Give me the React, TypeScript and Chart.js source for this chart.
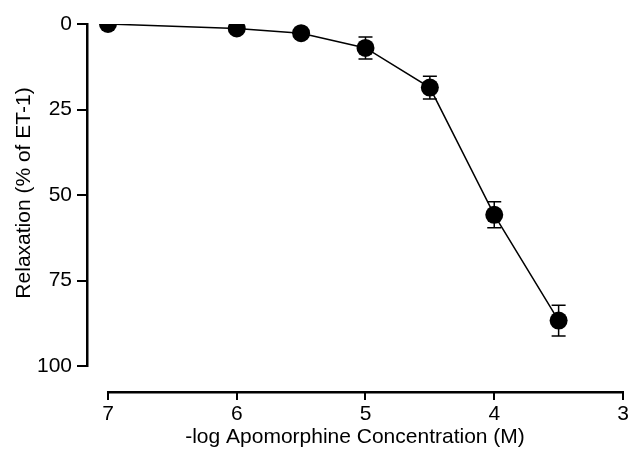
import React, { useEffect, useRef } from "react";
import { Chart, registerables } from "chart.js";

Chart.register(...registerables);

const concentrations = [7, 6, 5.5, 5, 4.5, 4, 3.5];
const relaxation = [0, 1.3, 2.7, 7.0, 18.6, 55.8, 86.7];
const sem = [0, 0, 0, 3.2, 3.3, 3.8, 4.5];
const xTicks = [7, 6, 5, 4, 3];
const yTicks = [0, 25, 50, 75, 100];
const yTitle = "Relaxation (% of ET-1)";
const xTitle = "-log Apomorphine Concentration (M)";

const FONT = "'Liberation Sans', Arial, Helvetica, sans-serif";

const axisLinesPlugin = {
  id: "axisLines",
  afterDraw(chart: any) {
    const { ctx, chartArea, scales } = chart;
    const x = scales.x;
    const y = scales.y;
    const left = Math.round(chartArea.left);
    const y0 = y.getPixelForValue(yTicks[0]);
    const y1 = y.getPixelForValue(yTicks[yTicks.length - 1]);
    ctx.save();
    ctx.fillStyle = "#000";
    ctx.fillRect(left - 1, Math.min(y0, y1) - 1, 2.5, Math.abs(y1 - y0) + 2);
    const x0 = x.getPixelForValue(xTicks[0]);
    const x1 = x.getPixelForValue(xTicks[xTicks.length - 1]);
    ctx.fillRect(Math.min(x0, x1) - 1, Math.round(chartArea.bottom) - 1, Math.abs(x1 - x0) + 2, 2.5);
    const midY = (y0 + y1) / 2;
    ctx.translate(24, midY - 2);
    ctx.rotate(-Math.PI / 2);
    ctx.font = `21px ${FONT}`;
    ctx.textAlign = "center";
    ctx.textBaseline = "middle";
    ctx.fillText(yTitle, 0, 0);
    ctx.restore();
  },
};

const errorBarsPlugin = {
  id: "errorBars",
  beforeDatasetsDraw(chart: any) {
    const { ctx, scales } = chart;
    const x = scales.x;
    const y = scales.y;
    ctx.save();
    ctx.strokeStyle = "#000";
    ctx.lineWidth = 1.5;
    concentrations.forEach((c, i) => {
      const e = sem[i];
      if (!e) return;
      const px = x.getPixelForValue(c);
      const top = y.getPixelForValue(relaxation[i] - e);
      const bot = y.getPixelForValue(relaxation[i] + e);
      ctx.beginPath();
      ctx.moveTo(px, top);
      ctx.lineTo(px, bot);
      ctx.moveTo(px - 7, top);
      ctx.lineTo(px + 7, top);
      ctx.moveTo(px - 7, bot);
      ctx.lineTo(px + 7, bot);
      ctx.stroke();
    });
    ctx.restore();
  },
};

export default function App() {
  const ref = useRef<HTMLCanvasElement | null>(null);

  useEffect(() => {
    if (!ref.current) return;
    const chart = new Chart(ref.current, {
      type: "scatter",
      data: {
        datasets: [
          {
            data: concentrations.map((c, i) => ({ x: c, y: relaxation[i] })),
            showLine: true,
            borderColor: "#000",
            borderWidth: 1.5,
            backgroundColor: "#000",
            pointBackgroundColor: "#000",
            pointBorderColor: "#000",
            pointRadius: 9,
            pointBorderWidth: 0,
            tension: 0,
          },
        ],
      },
      options: {
        animation: false,
        responsive: false,
        events: [],
        layout: { padding: { top: 24, right: 10, left: 8, bottom: 0 } },
        plugins: { legend: { display: false }, tooltip: { enabled: false } },
        scales: {
          x: {
            type: "linear",
            reverse: true,
            min: 3,
            max: 7.163,
            afterBuildTicks: (s: any) => {
              s.ticks = xTicks.map((v) => ({ value: v }));
            },
            afterFit: (s: any) => {
              s.height = 60;
            },
            border: { display: false },
            grid: {
              drawOnChartArea: false,
              drawTicks: true,
              tickLength: 8,
              color: "#000",
              lineWidth: 2,
            },
            ticks: {
              color: "#000",
              font: { family: FONT, size: 21 },
              padding: 2,
              maxRotation: 0,
              callback: (v: any) => String(v),
            },
            title: {
              display: true,
              text: xTitle,
              color: "#000",
              font: { family: FONT, size: 21 },
              padding: { top: 0, bottom: 2 },
            },
          },
          y: {
            type: "linear",
            reverse: true,
            min: 0,
            max: 107.6,
            afterBuildTicks: (s: any) => {
              s.ticks = yTicks.map((v) => ({ value: v }));
            },
            afterFit: (s: any) => {
              s.width = 79;
            },
            border: { display: false },
            grid: {
              drawOnChartArea: false,
              drawTicks: true,
              tickLength: 10,
              color: "#000",
              lineWidth: 2,
            },
            ticks: {
              color: "#000",
              font: { family: FONT, size: 21 },
              padding: 5,
              callback: (v: any) => String(v),
            },
            title: { display: false },
          },
        },
      },
      plugins: [axisLinesPlugin, errorBarsPlugin],
    });
    return () => chart.destroy();
  }, []);

  return (
    <div style={{ position: "absolute", left: 0, top: 0, width: 633, height: 452, background: "#fff" }}>
      <canvas ref={ref} width={633} height={452} style={{ display: "block" }} />
    </div>
  );
}
